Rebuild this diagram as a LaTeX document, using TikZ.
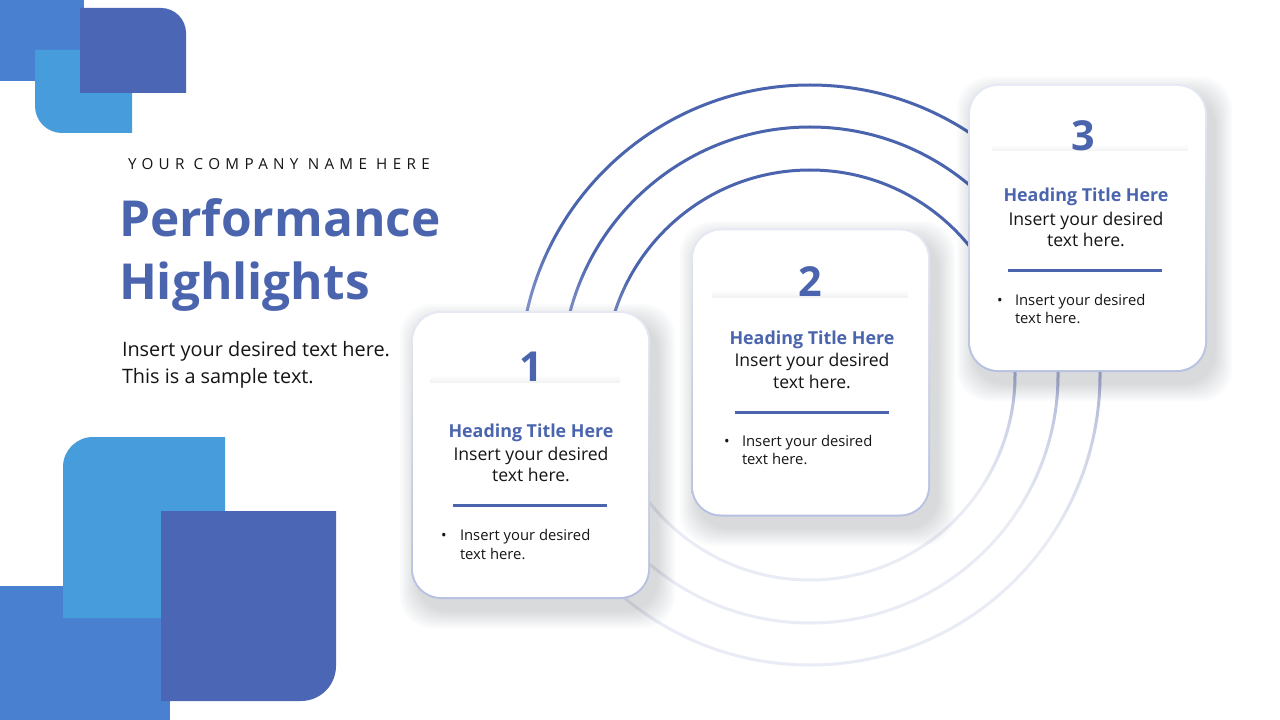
\documentclass[tikz,border=0pt]{standalone}
\usepackage{fontspec}
\setmainfont{Open Sans}
\newfontfamily\spacedfont[LetterSpace=35]{Open Sans}
\definecolor{midblue}{HTML}{4A80D0}
\definecolor{lightblue}{HTML}{479CDB}
\definecolor{darkblue}{HTML}{4A66B4}
\definecolor{brandblue}{HTML}{4A64AE}
\definecolor{headblue}{HTML}{4A64AE}
\definecolor{ink}{HTML}{151515}
\definecolor{cardtop}{HTML}{E6E9F4}
\definecolor{cardbot}{HTML}{B6C0E0}
\definecolor{shadowgrey}{HTML}{3A3F55}
\definecolor{ringA}{HTML}{4A64AE}
\definecolor{ringB}{HTML}{7A8CC4}
\definecolor{ringC}{HTML}{A9B2D6}
\definecolor{ringD}{HTML}{CDD2E6}
\definecolor{ringF}{HTML}{E9ECF4}
\pgfdeclareverticalshading{ringfade}{100bp}{color(0bp)=(ringF); color(25bp)=(ringF); color(36bp)=(ringF); color(44bp)=(ringD); color(50bp)=(ringC); color(57bp)=(ringB); color(62bp)=(ringA); color(75bp)=(ringA); color(100bp)=(ringA)}
\newcommand\softshadow[2]{%
  \foreach \k in {1,...,12}{%
    \fill[shadowgrey, opacity=0.015, rounded corners=24pt]
      ({#1-119.5+7-1.5*\k},{#2-144+11-1.5*\k}) rectangle ({#1+119.5+7+1.5*\k},{#2+144+11+1.5*\k});
  }%
}
\begin{document}
\begin{tikzpicture}[x=0.75pt,y=-0.75pt,
  txt/.style={inner sep=0pt, outer sep=0pt, anchor=base},
  txtw/.style={inner sep=0pt, outer sep=0pt, anchor=base west},
  cardout/.style={minimum width=179.25pt, minimum height=216pt, rounded corners=22.5pt, inner sep=0pt, top color=cardtop, bottom color=cardbot},
  cardin/.style={minimum width=176.25pt, minimum height=213pt, rounded corners=21pt, inner sep=0pt, fill=white},
  cardnum/.style={txt, font=\fontsize{31}{31}\selectfont\bfseries, text=brandblue},
  cardhead/.style={txt, font=\fontsize{13.4}{13}\selectfont\bfseries, text=headblue},
  cardbody/.style={txt, font=\fontsize{13.2}{13}\selectfont, text=ink},
  cardbul/.style={txtw, font=\fontsize{11.1}{11}\selectfont, text=ink},
  cardbulbox/.style={txt, font=\fontsize{11.1}{11}\selectfont, text=ink},
  rulebar/.style={line width=2.25pt, draw=brandblue},
  bandshade/.style={top color=white, bottom color=black!5, draw=none},
  ring/.style={shading=ringfade, even odd rule},
]
\useasboundingbox (0,0) rectangle (1280,720);
\fill[white] (0,0) rectangle (1280,720);

% top-left decoration
\fill[midblue] (0,0) rectangle (84,81);
\fill[lightblue] (35,50) -- (132,50) -- (132,133) -- (62,133) arc[start angle=90, end angle=180, radius=27] -- cycle;
\fill[darkblue] (80,93) -- (80,8) -- (161,8) arc[start angle=-90, end angle=0, radius=25] -- (186,93) -- cycle;

% bottom-left decoration
\fill[midblue] (0,586) rectangle (170,720);
\fill[lightblue] (63,618) -- (63,467) arc[start angle=180, end angle=270, radius=30] -- (225,437) -- (225,618) -- cycle;
\fill[darkblue] (161,511) -- (336,511) -- (336,666) arc[start angle=0, end angle=90, radius=35] -- (161,701) -- cycle;

% titles
\node[txtw, font=\spacedfont\fontsize{11.4}{12}\selectfont, text=ink] (company) at (128,169.3) {YOUR COMPANY NAME HERE};
\node[txtw, font=\fontsize{37.2}{40}\selectfont\bfseries, text=brandblue] (title1) at (119,236.7) {Performance};
\node[txtw, font=\fontsize{37.2}{40}\selectfont\bfseries, text=brandblue] (title2) at (119,299.3) {Highlights};
\node[txtw, font=\fontsize{14.9}{15}\selectfont, text=ink] (sub1) at (122,356) {Insert your desired text here.};
\node[txtw, font=\fontsize{14.9}{15}\selectfont, text=ink] (sub2) at (122,383.3) {This is a sample text.};

% rings
\coordinate (ctr) at (810,375);
\shade[ring] (ctr) circle[radius=291.5] (ctr) circle[radius=288.5];
\shade[ring] (ctr) circle[radius=249.5] (ctr) circle[radius=246.5];
\shade[ring] (ctr) circle[radius=206.5] (ctr) circle[radius=203.5];

% card 1
\softshadow{530.5}{455}
\node[cardout] (c1) at (530.5,455) {};
\node[cardin] (c1i) at (c1) {};
\shade[bandshade] (430,375) rectangle (620,382);
\node[cardnum] (n1) at (531.7,381.7) {1};
\node[cardhead] (h1) at (531,437) {Heading Title Here};
\node[cardbody] (b1a) at (531,460) {Insert your desired};
\node[cardbody] (b1b) at (531,481.7) {text here.};
\coordinate (r1a) at (453,505);
\coordinate (r1b) at (607,505);
\draw[rulebar] (r1a) -- (r1b);
\node[cardbulbox] (d1) at (444,540.7) {\textbullet};
\node[cardbul] (u1a) at (460,540.7) {Insert your desired};
\node[cardbul] (u1b) at (460,559.3) {text here.};

% card 2
\softshadow{810.5}{372.5}
\node[cardout] (c2) at (810.5,372.5) {};
\node[cardin] (c2i) at (c2) {};
\shade[bandshade] (712,290) rectangle (908,297);
\node[cardnum] (n2) at (810,296.7) {2};
\node[cardhead] (h2) at (812,344) {Heading Title Here};
\node[cardbody] (b2a) at (812,366.7) {Insert your desired};
\node[cardbody] (b2b) at (812,388.3) {text here.};
\coordinate (r2a) at (735,412);
\coordinate (r2b) at (889,412);
\draw[rulebar] (r2a) -- (r2b);
\node[cardbulbox] (d2) at (727,446) {\textbullet};
\node[cardbul] (u2a) at (742,446) {Insert your desired};
\node[cardbul] (u2b) at (742,464.3) {text here.};

% card 3
\softshadow{1087.5}{228}
\node[cardout] (c3) at (1087.5,228) {};
\node[cardin] (c3i) at (c3) {};
\shade[bandshade] (992,144) rectangle (1188,151);
\node[cardnum] (n3) at (1083.5,151) {3};
\node[cardhead] (h3) at (1086,201.7) {Heading Title Here};
\node[cardbody] (b3a) at (1086,225) {Insert your desired};
\node[cardbody] (b3b) at (1086,246.7) {text here.};
\coordinate (r3a) at (1008,270);
\coordinate (r3b) at (1162,270);
\draw[rulebar] (r3a) -- (r3b);
\node[cardbulbox] (d3) at (1000,305) {\textbullet};
\node[cardbul] (u3a) at (1015,305) {Insert your desired};
\node[cardbul] (u3b) at (1015,323.3) {text here.};
\end{tikzpicture}
\end{document}
